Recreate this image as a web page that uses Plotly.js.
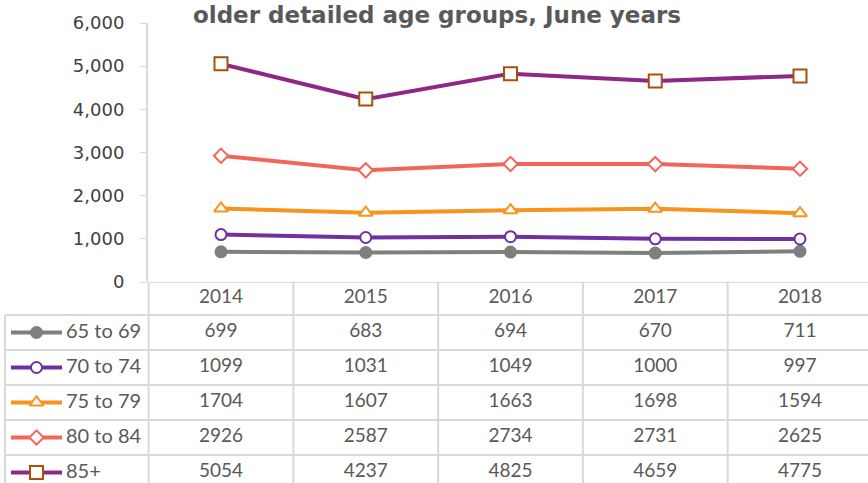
<!DOCTYPE html>
<html>
<head>
<meta charset="utf-8">
<script src="https://cdn.plot.ly/plotly-3.0.1.min.js"></script>
<style>html,body{margin:0;padding:0;background:#fff}#chart{width:868px;height:483px}</style>
</head>
<body>
<div id="chart"></div>
<script>
const years = ['2014', '2015', '2016', '2017', '2018'];
const groups = ['65 to 69', '70 to 74', '75 to 79', '80 to 84', '85+'];
const age65to69 = [699, 683, 694, 670, 711];
const age70to74 = [1099, 1031, 1049, 1000, 997];
const age75to79 = [1704, 1607, 1663, 1698, 1594];
const age80to84 = [2926, 2587, 2734, 2731, 2625];
const age85plus = [5054, 4237, 4825, 4659, 4775];
const yTicks = [0, 1000, 2000, 3000, 4000, 5000, 6000];

const seriesValues = [age65to69, age70to74, age75to79, age80to84, age85plus];
const styles = [
  {line: '#7f7f7f', symbol: 'circle', fill: '#7f7f7f', edge: '#7f7f7f', size: 11},
  {line: '#7030a0', symbol: 'circle', fill: '#ffffff', edge: '#7030a0', size: 11},
  {line: '#f7941d', symbol: 'triangle-up', fill: '#ffffff', edge: '#f7941d', size: 12},
  {line: '#f2665a', symbol: 'diamond', fill: '#ffffff', edge: '#f2665a', size: 11},
  {line: '#8e2786', symbol: 'square', fill: '#ffffff', edge: '#a9500f', size: 13}
];

const W = 868, H = 483;
const pxPerCat = 144.75, cat0px = 221;
const toX = px => (px - cat0px) / pxPerCat;
const idx = years.map((_, i) => i);

const traces = [];
seriesValues.forEach((vals, s) => {
  const st = styles[s];
  traces.push({
    type: 'scatter', mode: 'lines+markers', x: idx, y: vals, xaxis: 'x', yaxis: 'y',
    name: groups[s], showlegend: false, hoverinfo: 'skip', cliponaxis: false,
    line: {color: st.line, width: 4},
    marker: {symbol: st.symbol, size: st.size, color: st.fill, line: {color: st.edge, width: 2}}
  });
});

// table geometry (y2 in pixels below the plot bottom)
const rowEdges = [0, 33, 68, 103, 138, 173, 208];
const rowCenter = r => (rowEdges[r] + rowEdges[r + 1]) / 2;
const tableFont = {family: 'Lato, "Open Sans", sans-serif', size: 19, color: '#595959'};
const legendFont = {family: 'Lato, "Open Sans", sans-serif', size: 20, color: '#595959'};

traces.push({
  type: 'scatter', mode: 'text', xaxis: 'x2', yaxis: 'y2', x: idx, y: idx.map(() => rowCenter(0)),
  text: years, textfont: tableFont, textposition: 'middle center', showlegend: false, hoverinfo: 'skip', cliponaxis: false
});
seriesValues.forEach((vals, s) => {
  traces.push({
    type: 'scatter', mode: 'text', xaxis: 'x2', yaxis: 'y2', x: idx, y: idx.map(() => rowCenter(s + 1)),
    text: vals.map(v => String(v)), textfont: tableFont, textposition: 'middle center',
    showlegend: false, hoverinfo: 'skip', cliponaxis: false
  });
  const st = styles[s];
  const yc = rowCenter(s + 1);
  traces.push({
    type: 'scatter', mode: 'lines', xaxis: 'x2', yaxis: 'y2', x: [toX(11), toX(62)], y: [yc, yc],
    line: {color: st.line, width: 4}, showlegend: false, hoverinfo: 'skip', cliponaxis: false
  });
  traces.push({
    type: 'scatter', mode: 'markers', xaxis: 'x2', yaxis: 'y2', x: [toX(36.5)], y: [yc],
    marker: {symbol: st.symbol, size: st.size, color: st.fill, line: {color: st.edge, width: 2}},
    showlegend: false, hoverinfo: 'skip', cliponaxis: false
  });
  traces.push({
    type: 'scatter', mode: 'text', xaxis: 'x2', yaxis: 'y2', x: [toX(66)], y: [yc],
    text: [groups[s]], textfont: legendFont, textposition: 'middle right',
    showlegend: false, hoverinfo: 'skip', cliponaxis: false
  });
});

const gridColor = '#d9d9d9';
const shapes = [];
const leftPx = 5, rightPx = 875;
rowEdges.slice(0, 6).forEach((e, i) => {
  shapes.push({type: 'line', xref: 'x2', yref: 'y2', x0: i === 0 ? toX(148) : toX(leftPx), x1: toX(rightPx), y0: e, y1: e,
    line: {color: gridColor, width: 2}, layer: 'below'});
});
[-0.5, 0.5, 1.5, 2.5, 3.5].forEach(v => {
  shapes.push({type: 'line', xref: 'x2', yref: 'y2', x0: v, x1: v, y0: 0, y1: 210,
    line: {color: gridColor, width: 2}, layer: 'below'});
});
shapes.push({type: 'line', xref: 'x2', yref: 'y2', x0: toX(leftPx), x1: toX(leftPx), y0: rowEdges[1], y1: 210,
  line: {color: gridColor, width: 2}, layer: 'below'});

const plotBottom = 282, plotTop = 23;
const layout = {
  width: W, height: H,
  margin: {l: 0, r: 0, t: 0, b: 0, pad: 0},
  paper_bgcolor: '#ffffff', plot_bgcolor: 'rgba(0,0,0,0)',
  showlegend: false,
  title: {
    text: 'older detailed age groups, June years',
    font: {family: '"DejaVu Sans", Verdana, sans-serif', size: 23, color: '#595959', weight: 'bold'},
    x: 437 / W, xanchor: 'center', xref: 'container', y: 1 - 15 / H, yanchor: 'middle', yref: 'container'
  },
  xaxis: {
    domain: [148 / W, 1], range: [toX(148), toX(W)], showticklabels: false, showgrid: false,
    zeroline: false, showline: false, ticks: '', fixedrange: true
  },
  yaxis: {
    domain: [(H - plotBottom) / H, (H - plotTop) / H], range: [0, 6000], tickvals: yTicks,
    tickformat: ',', ticks: 'outside', ticklen: 6, tickwidth: 1, tickcolor: gridColor,
    showline: true, linecolor: gridColor, linewidth: 2, showgrid: false, zeroline: false,
    tickfont: {family: '"DejaVu Sans", Verdana, sans-serif', size: 18, color: '#404040'},
    ticklabelstandoff: 12, fixedrange: true
  },
  xaxis2: {domain: [0, 1], range: [toX(0), toX(W)], visible: false, anchor: 'y2', fixedrange: true},
  yaxis2: {domain: [0, (H - plotBottom) / H], range: [H - plotBottom, 0], visible: false, anchor: 'x2', fixedrange: true},
  shapes: shapes
};

Plotly.newPlot('chart', traces, layout, {displayModeBar: false, staticPlot: true});
</script>
</body>
</html>
